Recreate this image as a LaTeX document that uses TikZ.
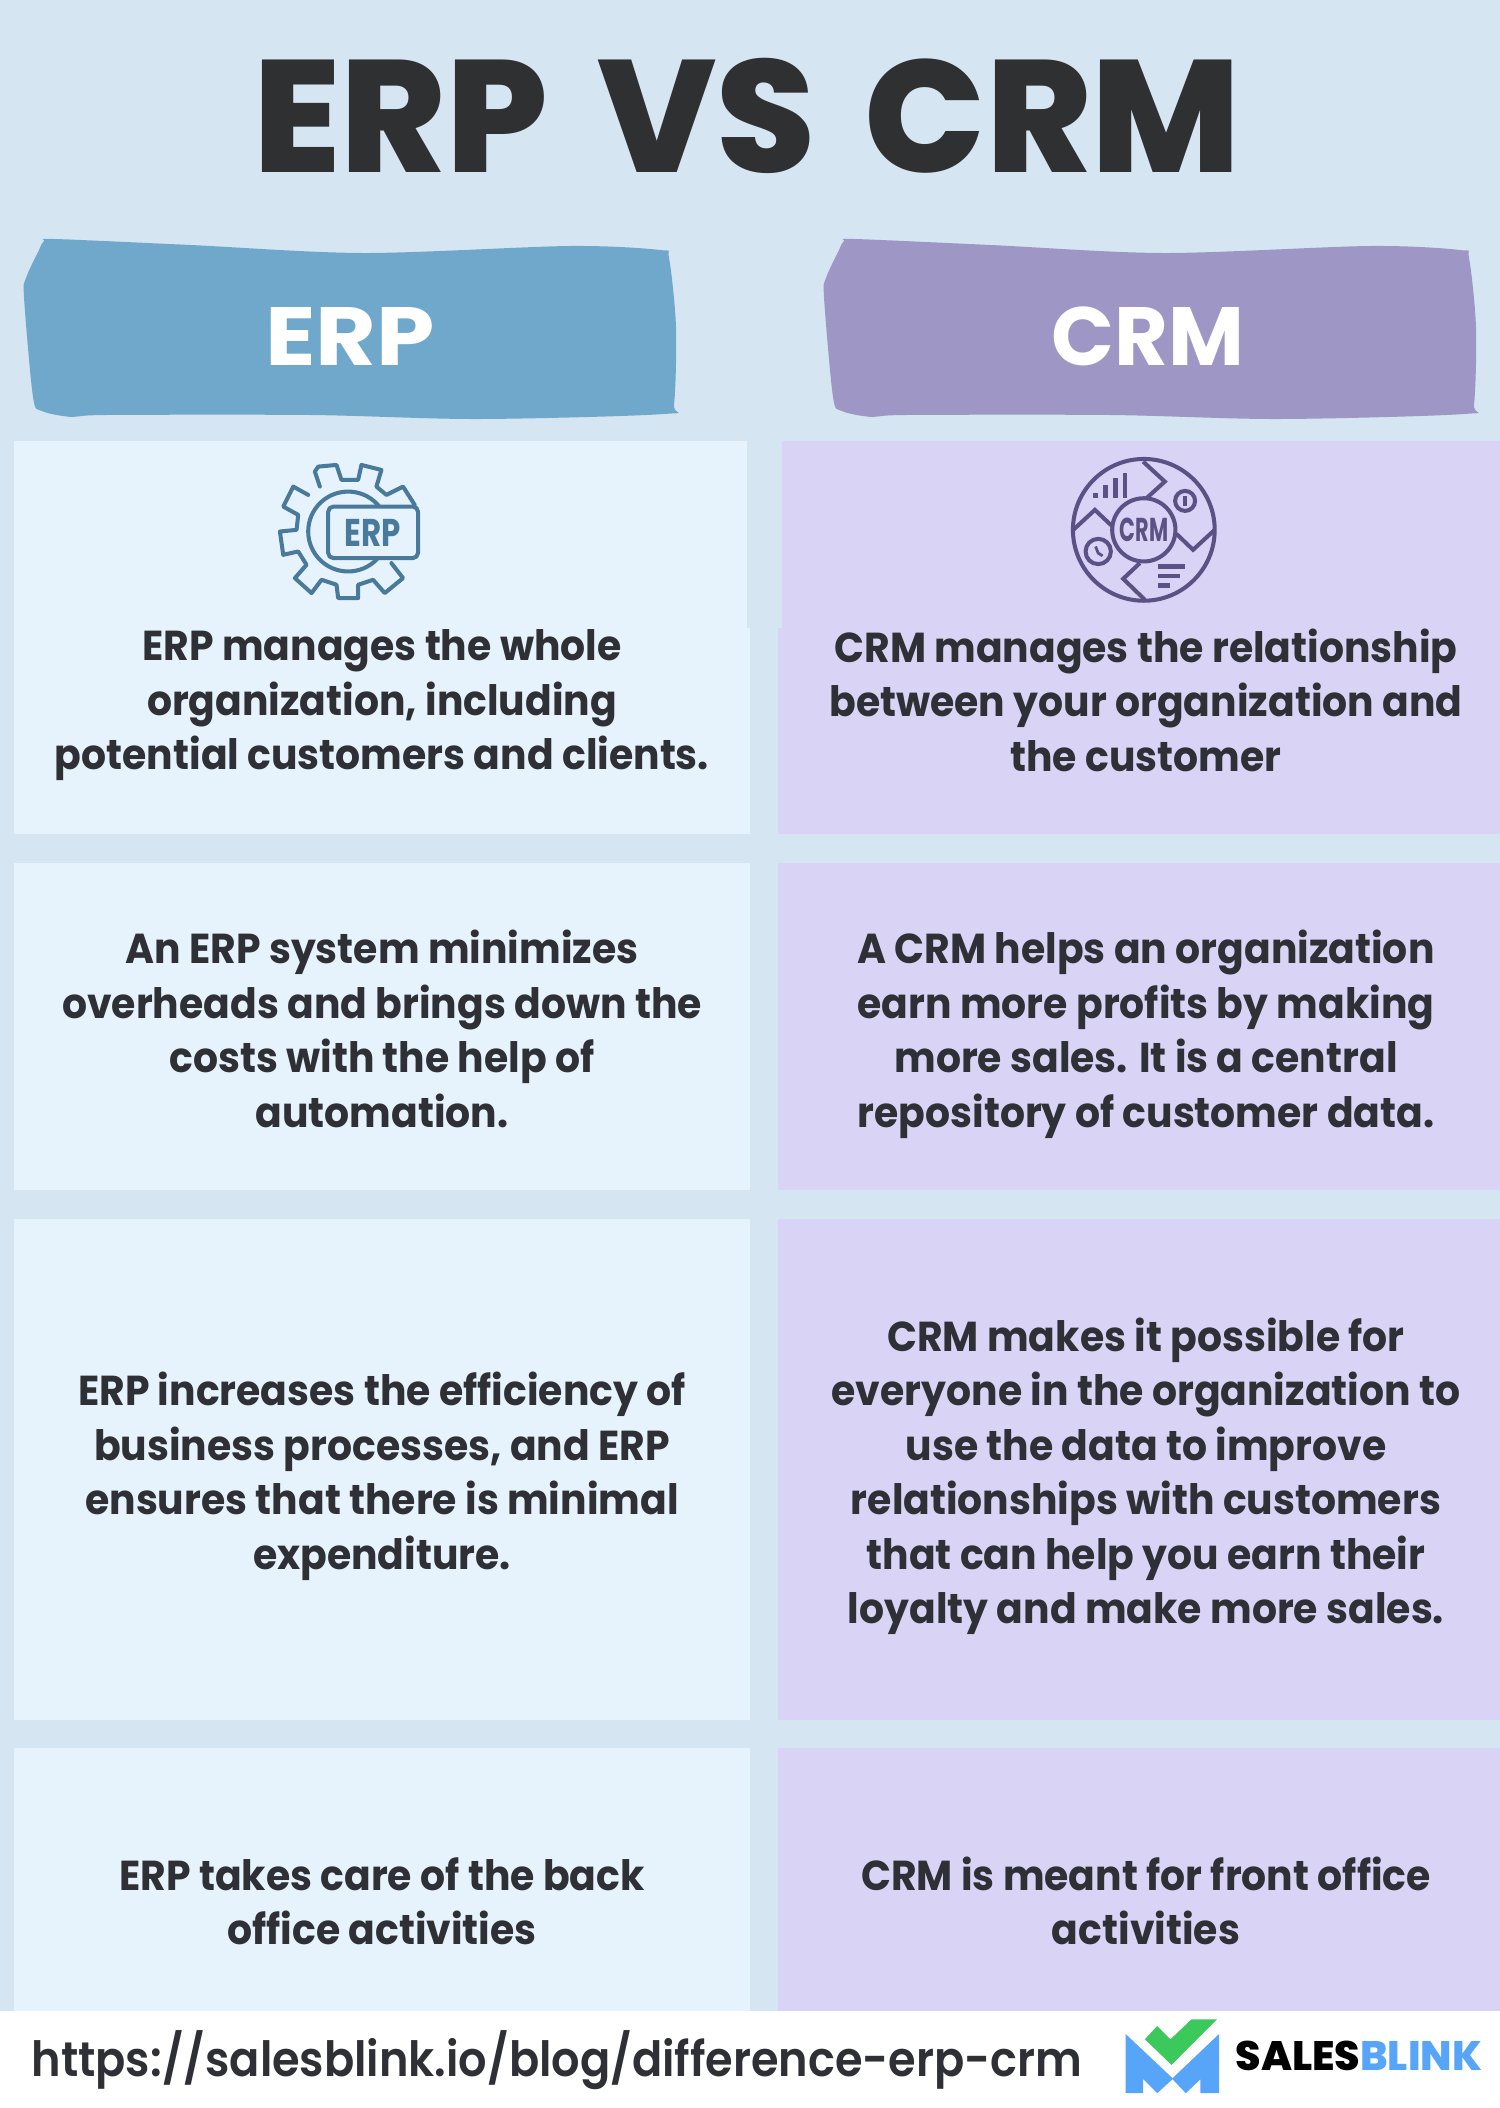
\documentclass[tikz,border=0pt]{standalone}
\usepackage{fontspec}
\setmainfont{Poppins}
\newfontfamily\heavyfont{Poppins ExtraBold}
\newfontfamily\bodyfont{Poppins Bold}[FakeStretch=0.94]
\newfontfamily\linkfont{Poppins SemiBold}[FakeStretch=0.92]
\definecolor{pagebg}{HTML}{D5E5F2}
\definecolor{erppanel}{HTML}{E6F3FD}
\definecolor{crmpanel}{HTML}{D9D3F6}
\definecolor{erpbrush}{HTML}{70A8CC}
\definecolor{crmbrush}{HTML}{9E96C5}
\definecolor{erpicon}{HTML}{4A7A9B}
\definecolor{crmicon}{HTML}{5B5184}
\definecolor{inktext}{HTML}{2E3036}
\definecolor{titleink}{HTML}{2F3031}
\definecolor{checkgreen}{HTML}{3CC95C}
\definecolor{blinkblue}{HTML}{56A5F8}
\def\brushfill[#1](#2){\fill[#1,shift={(#2,0)}] plot[smooth cycle,tension=0.5] coordinates {(39,250) (44,241) (55,239) (191,245) (364,253) (569,246) (660,250) (669,258) (676,327) (674,404) (664,414) (478,419) (311,415) (105,415) (72,417) (42,411) (33,397) (24,297) (26,278)};}
\tikzset{
	bodytext/.style={font=\bodyfont\fontsize{11.9}{15.48}\selectfont,align=center,text=inktext,yshift=-0.08cm,execute at begin node=\strut,execute at end node=\strut},
	headtext/.style={font=\bfseries\fontsize{23.5}{28}\selectfont,text=white},
	erpline/.style={draw=erpicon,line width=1.15pt,line join=round,line cap=round},
	crmline/.style={draw=crmicon,line width=1.15pt},
}
\begin{document}
\begin{tikzpicture}[x=0.01cm,y=-0.01cm,line width=0.3mm]
	%%%%% START %%%%%
	\useasboundingbox (0,0) rectangle (1500,2108);
	\fill[pagebg] (0,0) rectangle (1500,2108);

	\node[font=\heavyfont\fontsize{45.4}{50}\selectfont,text=titleink] (mainTitle) at (747,116) {ERP\hspace{0.12em} VS\hspace{0.12em} CRM};

	\brushfill[erpbrush](0);
	\brushfill[crmbrush](800);
	\node[headtext,xscale=1.13] (erpHead) at (350,336) {ERP};
	\node[headtext] (crmHead) at (1148,336) {CRM};

	\fill[erppanel] (14,441) rectangle (747,628);
	\fill[erppanel] (14,628) rectangle (750,834);
	\fill[erppanel] (14,863) rectangle (750,1190);
	\fill[erppanel] (14,1219) rectangle (750,1720);
	\fill[erppanel] (14,1748) rectangle (750,2011);
	\fill[crmpanel] (782,441) rectangle (1500,628);
	\fill[crmpanel] (778,628) rectangle (1500,834);
	\fill[crmpanel] (778,863) rectangle (1500,1190);
	\fill[crmpanel] (778,1219) rectangle (1500,1720);
	\fill[crmpanel] (778,1748) rectangle (1500,2011);

	% gear
	\begin{scope}[shift={(230,430)},x=0.00333cm,y=-0.00333cm]
		\draw[erpline] (270,170) -- (255,125) -- (265,110) -- (320,105) -- (335,150) -- (385,150) -- (395,105) -- (455,120) -- (440,170) -- (470,195) -- (520,170) -- (555,225);
		\draw[erpline] (485,400) -- (520,445) -- (465,490) -- (430,450) -- (385,465) -- (385,505) -- (325,505) -- (320,465) -- (275,450) -- (245,490) -- (195,445) -- (230,405) -- (205,365) -- (160,375) -- (150,305) -- (200,300) -- (205,255) -- (160,230) -- (190,170) -- (235,195);
		\draw[erpline] (355,305) circle (120);
		\draw[erpline,fill=erppanel,rounded corners=1.5pt] (295,230) rectangle (565,385);
	\end{scope}
	\node[font=\bfseries\fontsize{11}{12}\selectfont,text=erpicon,xscale=0.8] (erpMark) at (373,533) {ERP};

	% globe
	\begin{scope}[shift={(1030,430)},x=0.00333cm,y=-0.00333cm]
		\draw[crmline] (342,300) circle (213);
		\draw[crmline] (342,300) circle (95);
		\draw[crmline] (340,95) -- (405,155) -- (350,205);
		\draw[crmline] (130,300) -- (195,240) -- (248,290);
		\draw[crmline] (555,300) -- (490,360) -- (440,312);
		\draw[crmline] (330,400) -- (280,447) -- (345,510);
		\fill[crmicon] (190,190) rectangle (205,205);
		\fill[crmicon] (220,165) rectangle (235,205);
		\fill[crmicon] (250,145) rectangle (265,205);
		\fill[crmicon] (278,128) rectangle (292,205);
		\draw[crmline] (466,213) circle (30);
		\fill[crmicon] (460,198) rectangle (472,228);
		\draw[crmline] (205,365) circle (38);
		\draw[crmline,line width=0.8pt] (197,350) -- (205,370) -- (218,378);
		\fill[crmicon] (385,403) rectangle (467,417);
		\fill[crmicon] (385,432) rectangle (452,446);
		\fill[crmicon] (385,460) rectangle (422,474);
	\end{scope}
	\node[font=\bfseries\fontsize{9.4}{10}\selectfont,text=crmicon,xscale=0.63] (crmMark) at (1144,530) {CRM};

	\node[bodytext] (erpOne) at (382,700) {ERP manages the whole\\organization, including\\potential customers and clients.};
	\node[bodytext] (crmOne) at (1146,700) {CRM manages the relationship\\between your organization and\\the customer};
	\node[bodytext] (erpTwo) at (382,1029) {An ERP system minimizes\\overheads and brings down the\\costs with the help of\\automation.};
	\node[bodytext] (crmTwo) at (1146,1029) {A CRM helps an organization\\earn more profits by making\\more sales. It is a central\\repository of customer data.};
	\node[bodytext] (erpThree) at (382,1471) {ERP increases the efficiency of\\business processes, and ERP\\ensures that there is minimal\\expenditure.};
	\node[bodytext] (crmThree) at (1146,1471) {CRM makes it possible for\\everyone in the organization to\\use the data to improve\\relationships with customers\\that can help you earn their\\loyalty and make more sales.};
	\node[bodytext] (erpFour) at (382,1901) {ERP takes care of the back\\office activities};
	\node[bodytext] (crmFour) at (1146,1901) {CRM is meant for front office\\activities};

	% footer
	\fill[white] (0,2011) rectangle (1500,2108);
	\node[font=\linkfont\fontsize{13.8}{17}\selectfont,text=inktext,anchor=west,inner sep=0pt] (blogLink) at (30,2060) {https://salesblink.io/blog/difference-erp-crm};

	\begin{scope}[shift={(1080,1990)},x=0.00333cm,y=-0.00333cm]
		\fill[blinkblue] (137,132) -- (278,265) -- (418,132) -- (418,310) -- (362,310) -- (362,268) -- (318,310) -- (278,268) -- (232,310) -- (190,268) -- (190,310) -- (137,310) -- cycle;
		\fill[checkgreen] (195,148) -- (232,108) -- (272,148) -- (335,88) -- (412,88) -- (275,225) -- cycle;
	\end{scope}
	\node[font=\heavyfont\fontsize{11.7}{13}\selectfont,anchor=west,inner sep=0pt] (brandName) at (1234,2056) {SALES\textcolor{blinkblue}{BLINK}};
	%%%%% END %%%%%
\end{tikzpicture}
\end{document}
